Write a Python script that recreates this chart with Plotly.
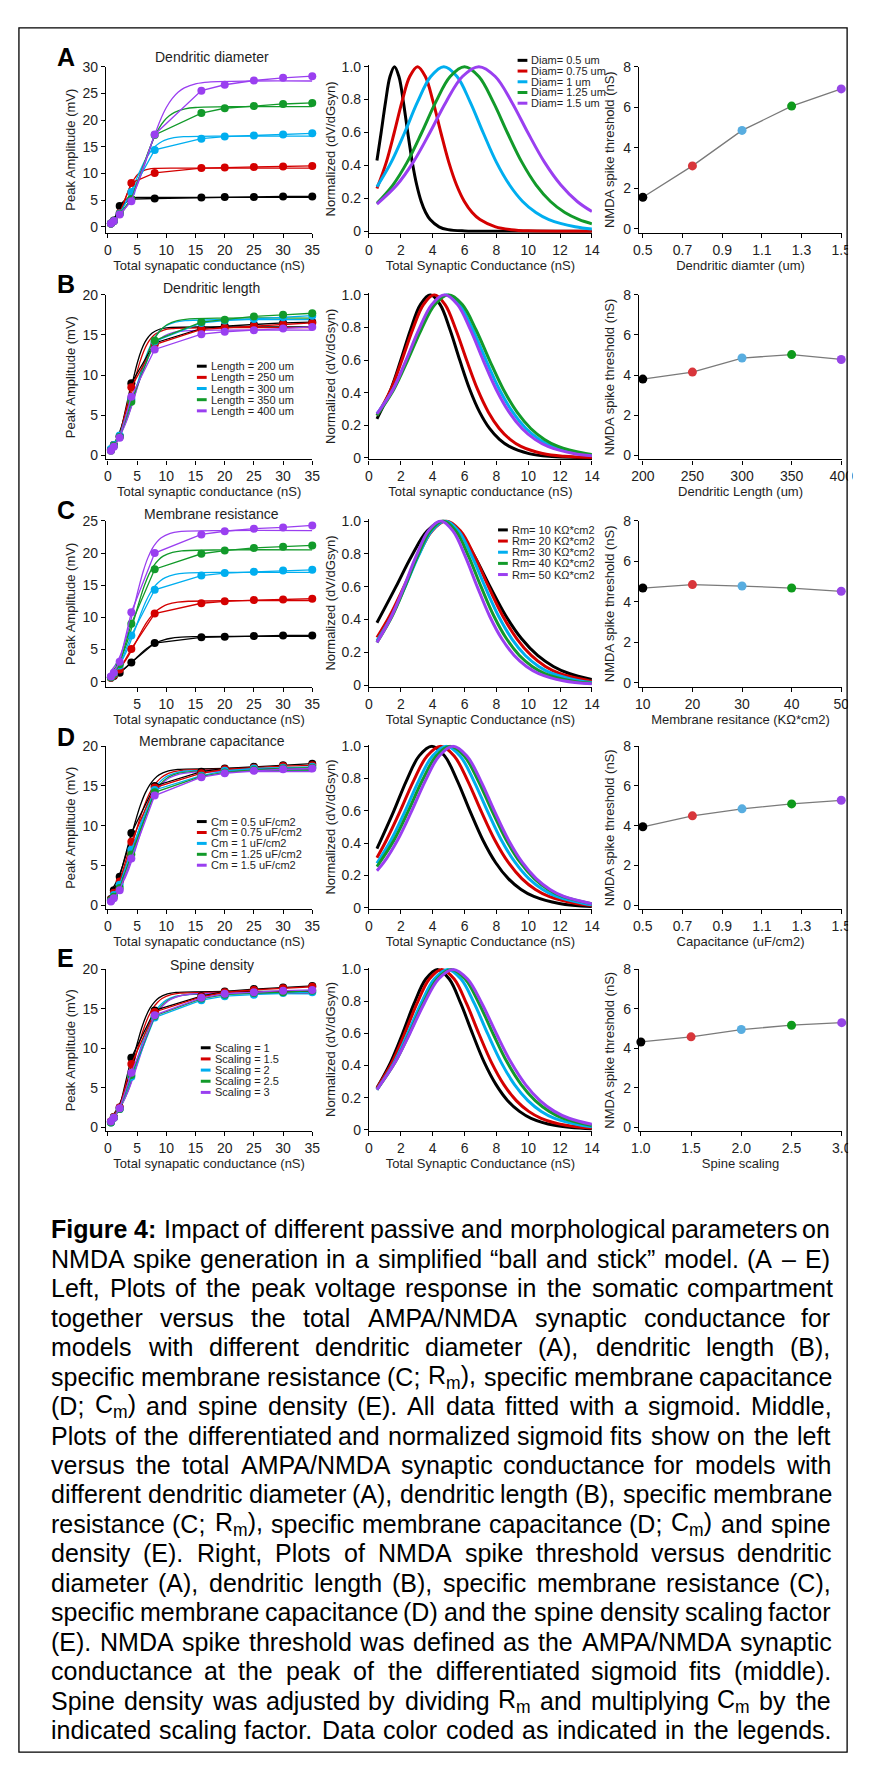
import re

import plotly.graph_objects as go

# page is 871 x 1784; the browser keeps an 8 px body margin, so the figure is
# drawn 16 px smaller and every page coordinate is shifted by PAD
PAGE_W, PAGE_H, PAD = 871, 1784, 8
W, H = PAGE_W - 2 * PAD, PAGE_H - 2 * PAD
FONT = "Liberation Sans, Arial, sans-serif"
INK = "#1e1e1e"

SERIES_COLORS = ["#000000", "#d40000", "#00aeef", "#129a2a", "#9a3ff0"]
THR_COLORS = ["#000000", "#d8363b", "#58ade0", "#0e9a1c", "#9646e6"]

AMP_X = [0.5, 1, 2, 4, 8, 16, 20, 25, 30, 35]

# ---- A: dendritic diameter
A_AMP = [
    [0.6, 1.2, 3.9, 5.2, 5.3, 5.5, 5.6, 5.6, 5.7, 5.7],
    [0.6, 1.1, 2.6, 8.2, 10.1, 11.0, 11.1, 11.2, 11.3, 11.4],
    [0.6, 1.1, 2.5, 6.5, 14.4, 16.5, 16.9, 17.1, 17.3, 17.5],
    [0.6, 1.1, 2.4, 5.2, 17.2, 21.3, 22.2, 22.6, 23.0, 23.2],
    [0.6, 1.1, 2.3, 4.8, 17.3, 25.5, 26.6, 27.4, 27.9, 28.2],
]
A_FIT_X = [
    [0.5, 1.04, 1.32, 1.6, 1.88, 2.16, 2.44, 2.72, 3.28, 3.84, 4.96, 10, 35],
    [0.5, 1.09, 1.58, 2.07, 2.56, 3.05, 3.54, 4.03, 4.52, 5.01, 5.5, 5.99, 6.97, 7.95, 12, 35],
    [0.5, 1.4, 2.23, 3.05, 3.88, 4.7, 5.53, 6.35, 7.18, 8.0, 8.83, 9.65, 11.3, 12.95, 20, 35],
    [0.5, 1.5, 2.4, 3.3, 4.2, 5.1, 6.0, 6.9, 7.8, 8.7, 9.6, 10.5, 11.4, 13.2, 15.0, 22, 35],
    [0.5, 1.75, 2.78, 3.81, 4.84, 5.87, 6.9, 7.93, 8.96, 9.99, 11.02, 12.05, 13.08, 15.14, 17.2, 25, 35],
]
A_FIT_Y = [
    [0.68, 1.48, 2.08, 2.75, 3.42, 4.02, 4.5, 4.85, 5.24, 5.4, 5.49, 5.5, 5.5],
    [0.76, 1.31, 2.0, 2.96, 4.16, 5.5, 6.84, 8.04, 9.0, 9.69, 10.16, 10.48, 10.8, 10.93, 11.0, 11.0],
    [1.22, 2.02, 3.09, 4.57, 6.43, 8.5, 10.57, 12.43, 13.91, 14.98, 15.71, 16.2, 16.69, 16.88, 17.0, 17.0],
    [1.01, 1.71, 2.68, 4.1, 6.05, 8.5, 11.25, 14.0, 16.45, 18.4, 19.82, 20.79, 21.44, 22.1, 22.34, 22.5, 22.5],
    [1.17, 2.07, 3.25, 4.97, 7.34, 10.32, 13.65, 16.98, 19.96, 22.33, 24.05, 25.23, 26.02, 26.81, 27.11, 27.3, 27.3],
]
A_NORM_X = [
    [0.5, 0.76, 1.04, 1.32, 1.6, 1.88, 2.16, 2.44, 2.72, 3.0, 3.28, 3.56, 3.84, 4.4, 4.96, 6.0, 8.0, 14.0],
    [0.5, 1.09, 1.58, 2.07, 2.56, 3.05, 3.54, 4.03, 4.52, 5.01, 5.5, 5.99, 6.48, 6.97, 7.95, 8.93, 10.0, 14.0],
    [0.5, 1.4, 2.23, 3.05, 3.88, 4.7, 5.53, 6.35, 7.18, 8.0, 8.83, 9.65, 10.48, 11.3, 12.95, 14.0],
    [0.5, 1.5, 2.4, 3.3, 4.2, 5.1, 6.0, 6.9, 7.8, 8.7, 9.6, 10.5, 11.4, 12.3, 13.2, 14.0],
    [0.5, 1.75, 2.78, 3.81, 4.84, 5.87, 6.9, 7.93, 8.96, 9.99, 11.02, 12.05, 13.08, 14.0],
]
A_NORM_Y = [
    [0.43, 0.597, 0.786, 0.94, 1.0, 0.94, 0.786, 0.597, 0.42, 0.281, 0.181, 0.114, 0.071, 0.027, 0.01, 0.002, 0.0, 0.0],
    [0.26, 0.42, 0.597, 0.786, 0.94, 1.0, 0.94, 0.786, 0.597, 0.42, 0.281, 0.181, 0.114, 0.071, 0.027, 0.01, 0.003, 0.0],
    [0.27, 0.42, 0.597, 0.786, 0.94, 1.0, 0.94, 0.786, 0.597, 0.42, 0.281, 0.181, 0.114, 0.071, 0.027, 0.014],
    [0.17, 0.281, 0.42, 0.597, 0.786, 0.94, 1.0, 0.94, 0.786, 0.597, 0.42, 0.281, 0.181, 0.114, 0.071, 0.046],
    [0.165, 0.281, 0.42, 0.597, 0.786, 0.94, 1.0, 0.94, 0.786, 0.597, 0.42, 0.281, 0.181, 0.12],
]
A_PARAM = [0.5, 0.75, 1.0, 1.25, 1.5]
A_THR = [1.55, 3.1, 4.85, 6.05, 6.9]
A_LEGEND = ["Diam= 0.5 um", "Diam= 0.75 um", "Diam= 1 um", "Diam= 1.25 um", "Diam= 1.5 um"]

# ---- B: dendritic length
B_AMP = [
    [0.7, 1.3, 2.4, 9.0, 14.0, 15.8, 16.1, 16.3, 16.5, 16.6],
    [0.7, 1.3, 2.4, 8.5, 13.8, 15.7, 15.9, 16.1, 16.3, 16.5],
    [0.8, 1.3, 2.5, 7.0, 14.2, 16.5, 16.8, 17.0, 17.2, 17.4],
    [0.6, 1.2, 2.3, 6.7, 14.3, 16.6, 16.9, 17.3, 17.5, 17.7],
    [0.6, 1.1, 2.2, 7.3, 13.2, 15.1, 15.4, 15.6, 15.8, 16.0],
]
B_FIT_X = [
    [0.5, 1.37, 1.99, 2.61, 3.23, 3.85, 4.47, 5.09, 5.71, 6.33, 6.95, 7.57, 8.81, 10.05, 18, 35],
    [0.5, 1.38, 2.06, 2.74, 3.42, 4.1, 4.78, 5.46, 6.14, 6.82, 7.5, 8.18, 9.54, 10.9, 18, 35],
    [0.5, 1.51, 2.35, 3.18, 4.02, 4.85, 5.69, 6.52, 7.36, 8.19, 9.03, 9.86, 11.53, 13.2, 20, 35],
    [0.5, 1.56, 2.42, 3.28, 4.14, 5.0, 5.86, 6.72, 7.58, 8.44, 9.3, 10.16, 11.88, 13.6, 20, 35],
    [0.5, 1.51, 2.32, 3.13, 3.94, 4.75, 5.56, 6.37, 7.18, 7.99, 8.8, 9.61, 11.23, 12.85, 20, 35],
]
B_FIT_Y = [
    [1.0, 1.9, 2.91, 4.3, 6.05, 8.0, 9.95, 11.7, 13.09, 14.1, 14.78, 15.25, 15.71, 15.89, 16.0, 16.0],
    [1.05, 1.89, 2.89, 4.28, 6.01, 7.95, 9.89, 11.62, 13.01, 14.01, 14.69, 15.15, 15.61, 15.79, 15.9, 15.9],
    [1.17, 2.01, 3.08, 4.55, 6.39, 8.45, 10.51, 12.35, 13.82, 14.89, 15.62, 16.11, 16.6, 16.78, 16.9, 16.9],
    [1.16, 2.03, 3.11, 4.6, 6.46, 8.55, 10.64, 12.5, 13.99, 15.07, 15.8, 16.3, 16.79, 16.98, 17.1, 17.1],
    [1.06, 1.86, 2.84, 4.2, 5.9, 7.8, 9.7, 11.4, 12.76, 13.74, 14.41, 14.87, 15.32, 15.49, 15.6, 15.6],
]
B_NORM_X = [
    [0.5, 1.37, 1.99, 2.61, 3.23, 3.85, 4.47, 5.09, 5.71, 6.33, 6.95, 7.57, 8.19, 8.81, 10.05, 11.29, 14.0],
    [0.5, 1.38, 2.06, 2.74, 3.42, 4.1, 4.78, 5.46, 6.14, 6.82, 7.5, 8.18, 8.86, 9.54, 10.9, 12.26, 14.0],
    [0.5, 1.51, 2.35, 3.18, 4.02, 4.85, 5.69, 6.52, 7.36, 8.19, 9.03, 9.86, 10.7, 11.53, 13.2, 14.0],
    [0.5, 1.56, 2.42, 3.28, 4.14, 5.0, 5.86, 6.72, 7.58, 8.44, 9.3, 10.16, 11.02, 11.88, 13.6, 14.0],
    [0.5, 1.51, 2.32, 3.13, 3.94, 4.75, 5.56, 6.37, 7.18, 7.99, 8.8, 9.61, 10.42, 11.23, 12.85, 14.0],
]
B_NORM_Y = [
    [0.24, 0.42, 0.597, 0.786, 0.94, 1.0, 0.94, 0.786, 0.597, 0.42, 0.281, 0.181, 0.114, 0.071, 0.027, 0.01, 0.001],
    [0.26, 0.42, 0.597, 0.786, 0.94, 1.0, 0.94, 0.786, 0.597, 0.42, 0.281, 0.181, 0.114, 0.071, 0.027, 0.01, 0.003],
    [0.27, 0.42, 0.597, 0.786, 0.94, 1.0, 0.94, 0.786, 0.597, 0.42, 0.281, 0.181, 0.114, 0.071, 0.027, 0.016],
    [0.26, 0.42, 0.597, 0.786, 0.94, 1.0, 0.94, 0.786, 0.597, 0.42, 0.281, 0.181, 0.114, 0.071, 0.027, 0.021],
    [0.27, 0.42, 0.597, 0.786, 0.94, 1.0, 0.94, 0.786, 0.597, 0.42, 0.281, 0.181, 0.114, 0.071, 0.027, 0.013],
]
B_PARAM = [200, 250, 300, 350, 400]
B_THR = [3.8, 4.15, 4.85, 5.02, 4.78]
B_LEGEND = ["Length = 200 um", "Length = 250 um", "Length = 300 um", "Length = 350 um", "Length = 400 um"]

# ---- C: membrane resistance
C_AMP = [
    [0.6, 0.9, 1.4, 3.0, 6.0, 6.9, 7.0, 7.1, 7.2, 7.2],
    [0.6, 1.0, 1.9, 5.1, 10.6, 12.2, 12.5, 12.7, 12.8, 12.9],
    [0.7, 1.2, 2.5, 7.2, 14.3, 16.5, 16.9, 17.1, 17.3, 17.4],
    [0.7, 1.2, 2.7, 9.0, 17.5, 19.9, 20.4, 20.8, 21.0, 21.2],
    [0.8, 1.4, 3.1, 10.8, 20.0, 22.9, 23.4, 23.8, 24.0, 24.3],
]
C_FIT_X = [
    [0.5, 1.68, 2.67, 3.66, 4.65, 5.64, 6.63, 7.62, 8.61, 9.6, 10.59, 12.57, 14.55, 22, 35],
    [0.5, 1.29, 2.18, 3.07, 3.96, 4.85, 5.74, 6.63, 7.52, 8.41, 9.3, 10.19, 11.97, 13.75, 22, 35],
    [0.5, 1.42, 2.26, 3.1, 3.94, 4.78, 5.62, 6.46, 7.3, 8.14, 8.98, 9.82, 11.5, 13.18, 20, 35],
    [0.5, 1.45, 2.25, 3.05, 3.85, 4.65, 5.45, 6.25, 7.05, 7.85, 8.65, 9.45, 11.05, 12.65, 20, 35],
    [0.5, 1.42, 2.19, 2.96, 3.73, 4.5, 5.27, 6.04, 6.81, 7.58, 8.35, 9.12, 10.66, 12.2, 20, 35],
]
C_FIT_Y = [
    [0.77, 1.28, 1.9, 2.66, 3.53, 4.39, 5.15, 5.77, 6.21, 6.51, 6.72, 6.92, 7.0, 7.05, 7.05],
    [1.01, 1.5, 2.29, 3.39, 4.76, 6.3, 7.84, 9.21, 10.31, 11.1, 11.64, 12.01, 12.37, 12.51, 12.6, 12.6],
    [1.23, 2.02, 3.09, 4.57, 6.43, 8.5, 10.57, 12.43, 13.91, 14.98, 15.71, 16.2, 16.69, 16.88, 17.0, 17.0],
    [1.43, 2.44, 3.73, 5.51, 7.75, 10.25, 12.75, 14.99, 16.77, 18.06, 18.94, 19.54, 20.13, 20.36, 20.5, 20.5],
    [1.62, 2.8, 4.28, 6.32, 8.88, 11.75, 14.62, 17.18, 19.22, 20.7, 21.71, 22.4, 23.08, 23.34, 23.5, 23.5],
]
C_NORM_X = [
    [0.5, 1.68, 2.67, 3.66, 4.65, 5.64, 6.63, 7.62, 8.61, 9.6, 10.59, 11.58, 12.57, 14.0],
    [0.5, 1.29, 2.18, 3.07, 3.96, 4.85, 5.74, 6.63, 7.52, 8.41, 9.3, 10.19, 11.08, 11.97, 14.0],
    [0.5, 1.42, 2.26, 3.1, 3.94, 4.78, 5.62, 6.46, 7.3, 8.14, 8.98, 9.82, 10.66, 11.5, 13.18, 14.0],
    [0.5, 1.45, 2.25, 3.05, 3.85, 4.65, 5.45, 6.25, 7.05, 7.85, 8.65, 9.45, 10.25, 11.05, 12.65, 14.0],
    [0.5, 1.42, 2.19, 2.96, 3.73, 4.5, 5.27, 6.04, 6.81, 7.58, 8.35, 9.12, 9.89, 10.66, 12.2, 14.0],
]
C_NORM_Y = [
    [0.38, 0.597, 0.786, 0.94, 1.0, 0.94, 0.786, 0.597, 0.42, 0.281, 0.181, 0.114, 0.071, 0.035],
    [0.29, 0.42, 0.597, 0.786, 0.94, 1.0, 0.94, 0.786, 0.597, 0.42, 0.281, 0.181, 0.114, 0.071, 0.023],
    [0.27, 0.42, 0.597, 0.786, 0.94, 1.0, 0.94, 0.786, 0.597, 0.42, 0.281, 0.181, 0.114, 0.071, 0.027, 0.016],
    [0.26, 0.42, 0.597, 0.786, 0.94, 1.0, 0.94, 0.786, 0.597, 0.42, 0.281, 0.181, 0.114, 0.071, 0.027, 0.011],
    [0.26, 0.42, 0.597, 0.786, 0.94, 1.0, 0.94, 0.786, 0.597, 0.42, 0.281, 0.181, 0.114, 0.071, 0.027, 0.008],
]
C_PARAM = [10, 20, 30, 40, 50]
C_THR = [4.68, 4.85, 4.78, 4.68, 4.52]
C_LEGEND = ["Rm= 10 KΩ*cm2", "Rm= 20 KΩ*cm2", "Rm= 30 KΩ*cm2", "Rm= 40 KΩ*cm2", "Rm= 50 KΩ*cm2"]

# ---- D: membrane capacitance
D_AMP = [
    [0.8, 1.9, 3.6, 9.1, 15.0, 16.8, 17.2, 17.4, 17.6, 17.8],
    [0.7, 1.6, 3.0, 8.0, 14.8, 16.6, 17.1, 17.3, 17.5, 17.6],
    [0.6, 1.3, 2.6, 7.0, 14.5, 16.3, 16.9, 17.2, 17.3, 17.4],
    [0.6, 1.1, 2.2, 6.4, 14.2, 16.2, 16.7, 17.0, 17.2, 17.3],
    [0.5, 0.9, 1.9, 5.9, 13.8, 16.1, 16.6, 16.9, 17.1, 17.2],
]
D_FIT_X = [
    [0.5, 1.55, 2.35, 3.15, 3.95, 4.75, 5.55, 6.35, 7.15, 7.95, 8.75, 10.35, 11.95, 20, 35],
    [0.5, 1.1, 1.95, 2.8, 3.65, 4.5, 5.35, 6.2, 7.05, 7.9, 8.75, 9.6, 11.3, 13.0, 20, 35],
    [0.5, 1.39, 2.26, 3.12, 3.99, 4.85, 5.72, 6.58, 7.45, 8.31, 9.18, 10.04, 11.77, 13.5, 20, 35],
    [0.5, 1.58, 2.46, 3.34, 4.22, 5.1, 5.98, 6.86, 7.74, 8.62, 9.5, 10.38, 12.14, 13.9, 20, 35],
    [0.5, 0.93, 1.8, 2.67, 3.54, 4.41, 5.28, 6.15, 7.02, 7.89, 8.76, 9.63, 10.5, 12.24, 13.98, 20, 35],
]
D_FIT_Y = [
    [1.77, 3.13, 4.63, 6.5, 8.6, 10.7, 12.57, 14.07, 15.15, 15.89, 16.39, 16.89, 17.08, 17.2, 17.2],
    [1.49, 2.03, 3.11, 4.6, 6.46, 8.55, 10.64, 12.5, 13.99, 15.07, 15.8, 16.3, 16.79, 16.98, 17.1, 17.1],
    [1.28, 2.02, 3.09, 4.57, 6.43, 8.5, 10.57, 12.43, 13.91, 14.98, 15.71, 16.2, 16.69, 16.88, 17.0, 17.0],
    [1.15, 2.01, 3.08, 4.55, 6.39, 8.45, 10.51, 12.35, 13.82, 14.89, 15.62, 16.11, 16.6, 16.78, 16.9, 16.9],
    [1.01, 1.28, 2.0, 3.06, 4.52, 6.35, 8.4, 10.45, 12.28, 13.74, 14.8, 15.52, 16.01, 16.5, 16.68, 16.8, 16.8],
]
D_NORM_X = [
    [0.5, 1.55, 2.35, 3.15, 3.95, 4.75, 5.55, 6.35, 7.15, 7.95, 8.75, 9.55, 10.35, 11.95, 14.0],
    [0.5, 1.1, 1.95, 2.8, 3.65, 4.5, 5.35, 6.2, 7.05, 7.9, 8.75, 9.6, 10.45, 11.3, 13.0, 14.0],
    [0.5, 1.39, 2.26, 3.12, 3.99, 4.85, 5.72, 6.58, 7.45, 8.31, 9.18, 10.04, 10.91, 11.77, 13.5, 14.0],
    [0.5, 1.58, 2.46, 3.34, 4.22, 5.1, 5.98, 6.86, 7.74, 8.62, 9.5, 10.38, 11.26, 12.14, 14.0],
    [0.5, 0.93, 1.8, 2.67, 3.54, 4.41, 5.28, 6.15, 7.02, 7.89, 8.76, 9.63, 10.5, 11.37, 12.24, 14.0],
]
D_NORM_Y = [
    [0.366, 0.597, 0.786, 0.94, 1.0, 0.94, 0.786, 0.597, 0.42, 0.281, 0.181, 0.114, 0.071, 0.027, 0.008],
    [0.31, 0.42, 0.597, 0.786, 0.94, 1.0, 0.94, 0.786, 0.597, 0.42, 0.281, 0.181, 0.114, 0.071, 0.027, 0.015],
    [0.276, 0.42, 0.597, 0.786, 0.94, 1.0, 0.94, 0.786, 0.597, 0.42, 0.281, 0.181, 0.114, 0.071, 0.027, 0.02],
    [0.255, 0.42, 0.597, 0.786, 0.94, 1.0, 0.94, 0.786, 0.597, 0.42, 0.281, 0.181, 0.114, 0.071, 0.025],
    [0.23, 0.281, 0.42, 0.597, 0.786, 0.94, 1.0, 0.94, 0.786, 0.597, 0.42, 0.281, 0.181, 0.114, 0.071, 0.026],
]
D_PARAM = [0.5, 0.75, 1.0, 1.25, 1.5]
D_THR = [3.95, 4.5, 4.85, 5.1, 5.28]
D_LEGEND = ["Cm = 0.5 uF/cm2", "Cm = 0.75 uF/cm2", "Cm = 1 uF/cm2", "Cm = 1.25 uF/cm2", "Cm = 1.5 uF/cm2"]

# ---- E: spine density
E_AMP = [
    [0.7, 1.3, 2.5, 8.8, 14.8, 16.6, 17.2, 17.5, 17.7, 17.9],
    [0.7, 1.3, 2.5, 8.0, 14.6, 16.5, 17.1, 17.4, 17.6, 17.8],
    [0.6, 1.2, 2.3, 6.4, 13.9, 16.1, 16.6, 16.8, 17.0, 17.1],
    [0.6, 1.2, 2.3, 6.6, 14.1, 16.3, 16.8, 17.0, 17.1, 17.3],
    [0.7, 1.2, 2.4, 6.9, 14.2, 16.4, 16.9, 17.1, 17.3, 17.4],
]
E_FIT_X = [
    [0.5, 1.36, 2.1, 2.83, 3.57, 4.3, 5.04, 5.77, 6.51, 7.24, 7.98, 8.71, 10.18, 11.65, 20, 35],
    [0.5, 1.45, 2.23, 3.01, 3.79, 4.57, 5.35, 6.13, 6.91, 7.69, 8.47, 9.25, 10.81, 12.37, 20, 35],
    [0.5, 1.58, 2.42, 3.26, 4.1, 4.94, 5.78, 6.62, 7.46, 8.3, 9.14, 9.98, 11.66, 13.34, 20, 35],
    [0.5, 1.64, 2.52, 3.4, 4.28, 5.16, 6.04, 6.92, 7.8, 8.68, 9.56, 10.44, 12.2, 13.96, 20, 35],
    [0.5, 1.64, 2.55, 3.46, 4.37, 5.28, 6.19, 7.1, 8.01, 8.92, 9.83, 10.74, 12.56, 14.38, 20, 35],
]
E_FIT_Y = [
    [1.2, 2.05, 3.13, 4.63, 6.5, 8.6, 10.7, 12.57, 14.07, 15.15, 15.89, 16.39, 16.89, 17.08, 17.2, 17.2],
    [1.18, 2.03, 3.11, 4.6, 6.46, 8.55, 10.64, 12.5, 13.99, 15.07, 15.8, 16.3, 16.79, 16.98, 17.1, 17.1],
    [1.17, 2.01, 3.08, 4.55, 6.39, 8.45, 10.51, 12.35, 13.82, 14.89, 15.62, 16.11, 16.6, 16.78, 16.9, 16.9],
    [1.15, 2.02, 3.09, 4.56, 6.41, 8.48, 10.54, 12.39, 13.86, 14.93, 15.66, 16.15, 16.64, 16.83, 16.95, 16.95],
    [1.14, 2.02, 3.09, 4.57, 6.43, 8.5, 10.57, 12.43, 13.91, 14.98, 15.71, 16.2, 16.69, 16.88, 17.0, 17.0],
]
E_NORM_X = [
    [0.5, 1.36, 2.1, 2.83, 3.57, 4.3, 5.04, 5.77, 6.51, 7.24, 7.98, 8.71, 9.45, 10.18, 11.65, 14.0],
    [0.5, 1.45, 2.23, 3.01, 3.79, 4.57, 5.35, 6.13, 6.91, 7.69, 8.47, 9.25, 10.03, 10.81, 12.37, 14.0],
    [0.5, 1.58, 2.42, 3.26, 4.1, 4.94, 5.78, 6.62, 7.46, 8.3, 9.14, 9.98, 10.82, 11.66, 13.34, 14.0],
    [0.5, 1.64, 2.52, 3.4, 4.28, 5.16, 6.04, 6.92, 7.8, 8.68, 9.56, 10.44, 11.32, 12.2, 14.0],
    [0.5, 1.64, 2.55, 3.46, 4.37, 5.28, 6.19, 7.1, 8.01, 8.92, 9.83, 10.74, 11.65, 12.56, 14.0],
]
E_NORM_Y = [
    [0.26, 0.42, 0.597, 0.786, 0.94, 1.0, 0.94, 0.786, 0.597, 0.42, 0.281, 0.181, 0.114, 0.071, 0.027, 0.005],
    [0.26, 0.42, 0.597, 0.786, 0.94, 1.0, 0.94, 0.786, 0.597, 0.42, 0.281, 0.181, 0.114, 0.071, 0.027, 0.01],
    [0.25, 0.42, 0.597, 0.786, 0.94, 1.0, 0.94, 0.786, 0.597, 0.42, 0.281, 0.181, 0.114, 0.071, 0.027, 0.018],
    [0.25, 0.42, 0.597, 0.786, 0.94, 1.0, 0.94, 0.786, 0.597, 0.42, 0.281, 0.181, 0.114, 0.071, 0.026],
    [0.25, 0.42, 0.597, 0.786, 0.94, 1.0, 0.94, 0.786, 0.597, 0.42, 0.281, 0.181, 0.114, 0.071, 0.033],
]
E_PARAM = [1.0, 1.5, 2.0, 2.5, 3.0]
E_THR = [4.32, 4.58, 4.95, 5.17, 5.3]
E_LEGEND = ["Scaling = 1", "Scaling = 1.5", "Scaling = 2", "Scaling = 2.5", "Scaling = 3"]

CAPTION = [
    "<b>Figure</b> <b>4:</b> Impact of different passive and morphological parameters on",
    "NMDA spike generation in a simplified “ball and stick” model. (A – E)",
    "Left, Plots of the peak voltage response in the somatic compartment",
    "together versus the total AMPA/NMDA synaptic conductance for",
    "models with different dendritic diameter (A), dendritic length (B),",
    "specific membrane resistance (C; R<sub>m</sub>), specific membrane capacitance",
    "(D; C<sub>m</sub>) and spine density (E). All data fitted with a sigmoid. Middle,",
    "Plots of the differentiated and normalized sigmoid fits show on the left",
    "versus the total AMPA/NMDA synaptic conductance for models with",
    "different dendritic diameter (A), dendritic length (B), specific membrane",
    "resistance (C; R<sub>m</sub>), specific membrane capacitance (D; C<sub>m</sub>) and spine",
    "density (E). Right, Plots of NMDA spike threshold versus dendritic",
    "diameter (A), dendritic length (B), specific membrane resistance (C),",
    "specific membrane capacitance (D) and the spine density scaling factor",
    "(E). NMDA spike threshold was defined as the AMPA/NMDA synaptic",
    "conductance at the peak of the differentiated sigmoid fits (middle).",
    "Spine density was adjusted by dividing R<sub>m</sub> and multiplying C<sub>m</sub> by the",
    "indicated scaling factor. Data color coded as indicated in the legends.",
]

ROWS = [
    dict(letter="A", title="Dendritic diameter", amp=A_AMP, fit_x=A_FIT_X, fit_y=A_FIT_Y,
         norm_x=A_NORM_X, norm_y=A_NORM_Y, par=A_PARAM, thr=A_THR, legend=A_LEGEND,
         amp_hi=30, amp_off=6, amp_xticks=[0, 5, 10, 15, 20, 25, 30, 35],
         amp_xtitle="Total synapatic conductance (nS)",
         norm_xtitle="Total Synaptic Conductance (nS)",
         par_range=[0.48, 1.505], par_ticks=[0.5, 0.7, 0.9, 1.1, 1.3, 1.5],
         par_title="Dendritic diamter (um)",
         leg_x=521, leg_top=52.7, leg_step=10.8, title_y=49, letter_y=49),
    dict(letter="B", title="Dendritic length", amp=B_AMP, fit_x=B_FIT_X, fit_y=B_FIT_Y,
         norm_x=B_NORM_X, norm_y=B_NORM_Y, par=B_PARAM, thr=B_THR, legend=B_LEGEND,
         amp_hi=20, amp_off=4, amp_xticks=[0, 5, 10, 15, 20, 25, 30, 35],
         amp_xtitle="Total synaptic conductance (nS)",
         norm_xtitle="Total synaptic conductance (nS)",
         par_range=[196, 401], par_ticks=[200, 250, 300, 350, 400],
         par_title="Dendritic Length (um)",
         leg_x=193, leg_top=361, leg_step=11.25, title_y=282, letter_y=278),
    dict(letter="C", title="Membrane resistance", amp=C_AMP, fit_x=C_FIT_X, fit_y=C_FIT_Y,
         norm_x=C_NORM_X, norm_y=C_NORM_Y, par=C_PARAM, thr=C_THR, legend=C_LEGEND,
         amp_hi=25, amp_off=5, amp_xticks=[5, 10, 15, 20, 25, 30, 35],
         amp_xtitle="Total synapatic conductance (nS)",
         norm_xtitle="Total Synaptic Conductance (nS)",
         par_range=[9.2, 50.2], par_ticks=[10, 20, 30, 40, 50],
         par_title="Membrane resitance (KΩ*cm2)",
         leg_x=501, leg_top=526, leg_step=11.25, title_y=510, letter_y=506),
    dict(letter="D", title="Membrane capacitance", amp=D_AMP, fit_x=D_FIT_X, fit_y=D_FIT_Y,
         norm_x=D_NORM_X, norm_y=D_NORM_Y, par=D_PARAM, thr=D_THR, legend=D_LEGEND,
         amp_hi=20, amp_off=4, amp_xticks=[0, 5, 10, 15, 20, 25, 30, 35],
         amp_xtitle="Total synapatic conductance (nS)",
         norm_xtitle="Total Synaptic Conductance (nS)",
         par_range=[0.48, 1.505], par_ticks=[0.5, 0.7, 0.9, 1.1, 1.3, 1.5],
         par_title="Capacitance (uF/cm2)",
         leg_x=193, leg_top=820, leg_step=11, title_y=739, letter_y=735),
    dict(letter="E", title="Spine density", amp=E_AMP, fit_x=E_FIT_X, fit_y=E_FIT_Y,
         norm_x=E_NORM_X, norm_y=E_NORM_Y, par=E_PARAM, thr=E_THR, legend=E_LEGEND,
         amp_hi=20, amp_off=4, amp_xticks=[0, 5, 10, 15, 20, 25, 30, 35],
         amp_xtitle="Total synapatic conductance (nS)",
         norm_xtitle="Total Synaptic Conductance (nS)",
         par_range=[0.98, 3.005], par_ticks=[1.0, 1.5, 2.0, 2.5, 3.0],
         par_title="Spine scaling",
         leg_x=197, leg_top=1048, leg_step=11.25, title_y=965, letter_y=958),
]

ROW_TOP = [59, 289, 517, 744, 969]
ROW_BOT = [226.5, 455, 684, 908.5, 1132]
COL_X = [(100, 311), (369, 597), (645, 853)]
TICK_SIZE = 14
TITLE_SIZE = 13

ARIAL = {" ": 278, "(": 333, ")": 333, ",": 278, "-": 333, ".": 278, "/": 278,
         ":": 278, ";": 278, "“": 333, "”": 333, "–": 556}
ARIAL.update({d: 556 for d in "0123456789"})
ARIAL.update(dict(A=667, B=667, C=722, D=722, E=667, F=611, G=778, H=722, I=278, J=500,
                  K=667, L=556, M=833, N=722, O=778, P=667, Q=778, R=722, S=667, T=611,
                  U=722, V=667, W=944, X=667, Y=667, Z=611))
ARIAL.update(dict(a=556, b=556, c=500, d=556, e=556, f=278, g=556, h=556, i=222, j=222,
                  k=500, l=222, m=833, n=556, o=556, p=556, q=556, r=333, s=500, t=278,
                  u=556, v=500, w=722, x=500, y=500, z=500))
ARIAL_BOLD = {"F": 611, "i": 278, "g": 611, "u": 611, "r": 389, "e": 556, "4": 556, ":": 333}


def fx(p):
    return (p - PAD) / W


def fy(p):
    return 1 - (p - PAD) / H


def word_width(word, size):
    total, bold, sub = 0.0, False, False
    for tok in re.split(r"(<[^>]+>)", word):
        if tok.startswith("<"):
            on = not tok.startswith("</")
            name = tok.strip("</>")
            if name == "b":
                bold = on
            elif name == "sub":
                sub = on
            continue
        for ch in tok:
            w = (ARIAL_BOLD if bold else ARIAL).get(ch, ARIAL.get(ch, 556))
            total += w * (0.7 if sub else 1.0)
    return total * size / 1000


def axis(**kw):
    base = dict(showline=True, linecolor="black", linewidth=1.2, ticks="outside",
                ticklen=4, tickwidth=1.1, tickcolor="black", showgrid=False,
                zeroline=False, tickfont=dict(size=TICK_SIZE, color=INK, family=FONT))
    base.update(kw)
    return base


def axis_title(s, standoff=3):
    return dict(text=s, standoff=standoff, font=dict(size=TITLE_SIZE, color=INK, family=FONT))


def text(s, x, y, size, anchor="center", bold=False, color=INK):
    return dict(text=f"<b>{s}</b>" if bold else s, x=fx(x), y=fy(y), xref="paper",
                yref="paper", xanchor=anchor, yanchor="middle", showarrow=False,
                borderpad=0, font=dict(size=size, family=FONT, color=color))


fig = go.Figure()
axes = {}
notes = []
shapes = []

for r, row in enumerate(ROWS):
    top, bot = ROW_TOP[r], ROW_BOT[r]
    for c in range(3):
        n = r * 3 + c + 1
        xs = "" if n == 1 else str(n)
        xa, ya = "x" + xs, "y" + xs
        x0, x1 = COL_X[c]
        dom_x = [fx(x0), fx(x1)]
        if c == 0:
            for i in range(5):
                fig.add_trace(go.Scatter(
                    x=row["fit_x"][i], y=row["fit_y"][i], mode="lines",
                    line=dict(color=SERIES_COLORS[i], width=1.3, shape="spline"),
                    xaxis=xa, yaxis=ya, hoverinfo="skip"))
            for i in range(5):
                fig.add_trace(go.Scatter(
                    x=AMP_X, y=row["amp"][i], mode="lines+markers",
                    line=dict(color=SERIES_COLORS[i], width=1.3),
                    marker=dict(color=SERIES_COLORS[i], size=8),
                    cliponaxis=False, xaxis=xa, yaxis=ya))
            hi, off = row["amp_hi"], row["amp_off"]
            lo = -off * hi / (bot - top - off)
            axes["xaxis" + xs] = axis(
                domain=dom_x, anchor=ya, range=[-0.35, 35], tickvals=row["amp_xticks"],
                title=axis_title(row["amp_xtitle"]))
            axes["yaxis" + xs] = axis(
                domain=[fy(bot), fy(top)], anchor=xa, range=[lo, hi],
                tickvals=list(range(0, hi + 1, 5)),
                title=axis_title("Peak Amplitude (mV)"))
        elif c == 1:
            for i in range(5):
                fig.add_trace(go.Scatter(
                    x=row["norm_x"][i], y=row["norm_y"][i], mode="lines",
                    line=dict(color=SERIES_COLORS[i], width=3, shape="spline"),
                    xaxis=xa, yaxis=ya))
            axes["xaxis" + xs] = axis(
                domain=dom_x, anchor=ya, range=[0, 14], tickvals=list(range(0, 15, 2)),
                title=axis_title(row["norm_xtitle"]))
            axes["yaxis" + xs] = axis(
                domain=[fy(bot), fy(top - 1.6)], anchor=xa, range=[-0.009, 1.01],
                tickvals=[0, 0.2, 0.4, 0.6, 0.8, 1.0],
                ticktext=["0", "0.2", "0.4", "0.6", "0.8", "1.0"],
                title=axis_title("Normalized (dV/dGsyn)"))
        else:
            fig.add_trace(go.Scatter(
                x=row["par"], y=row["thr"], mode="lines+markers",
                line=dict(color="#7a7a7a", width=1.3),
                marker=dict(color=THR_COLORS, size=9), cliponaxis=False,
                xaxis=xa, yaxis=ya))
            axes["xaxis" + xs] = axis(
                domain=dom_x, anchor=ya, range=row["par_range"], tickvals=row["par_ticks"],
                ticktext=[f"{t:g}" if t >= 10 else f"{t:.1f}" for t in row["par_ticks"]],
                title=axis_title(row["par_title"]))
            axes["yaxis" + xs] = axis(
                domain=[fy(bot), fy(top)], anchor=xa, range=[-0.2, 8],
                tickvals=[0, 2, 4, 6, 8],
                title=axis_title("NMDA spike threshold (nS)", 5))

    notes.append(text(row["letter"], 59, row["letter_y"], 25, bold=True, color="#000"))
    notes.append(text(row["title"], 208, row["title_y"], 14))
    for i, label in enumerate(row["legend"]):
        y = row["leg_top"] + i * row["leg_step"]
        shapes.append(dict(type="line", xref="paper", yref="paper",
                           x0=fx(row["leg_x"]), x1=fx(row["leg_x"] + 10), y0=fy(y), y1=fy(y),
                           line=dict(color=SERIES_COLORS[i], width=3)))
        notes.append(text(label, row["leg_x"] + 13, y, 11, anchor="left"))

CAP_LEFT, CAP_RIGHT = 43, 839
CAP_TOP, CAP_STEP, CAP_SIZE = 1231, 29.7, 25
for i, line in enumerate(CAPTION):
    words = line.split(" ")
    widths = [word_width(w, CAP_SIZE) for w in words]
    gap = (CAP_RIGHT - CAP_LEFT - sum(widths)) / (len(words) - 1)
    x = CAP_LEFT
    for w, wd in zip(words, widths):
        notes.append(text(w, x, CAP_TOP + i * CAP_STEP, CAP_SIZE, anchor="left", color="#000"))
        x += wd + gap

shapes.append(dict(type="rect", xref="paper", yref="paper", x0=fx(859), x1=1, y0=0, y1=1,
                   fillcolor="white", line=dict(width=0), layer="above"))
shapes.append(dict(type="rect", xref="paper", yref="paper", x0=fx(11), x1=fx(858),
                   y0=fy(1758), y1=fy(20), line=dict(color="black", width=1.3),
                   layer="above"))

fig.update_layout(
    width=W, height=H, margin=dict(l=0, r=0, t=0, b=0),
    paper_bgcolor="white", plot_bgcolor="white", showlegend=False,
    font=dict(family=FONT, color=INK), annotations=notes, shapes=shapes, **axes,
)
fig.write_html("out.html", config={"displayModeBar": False})
